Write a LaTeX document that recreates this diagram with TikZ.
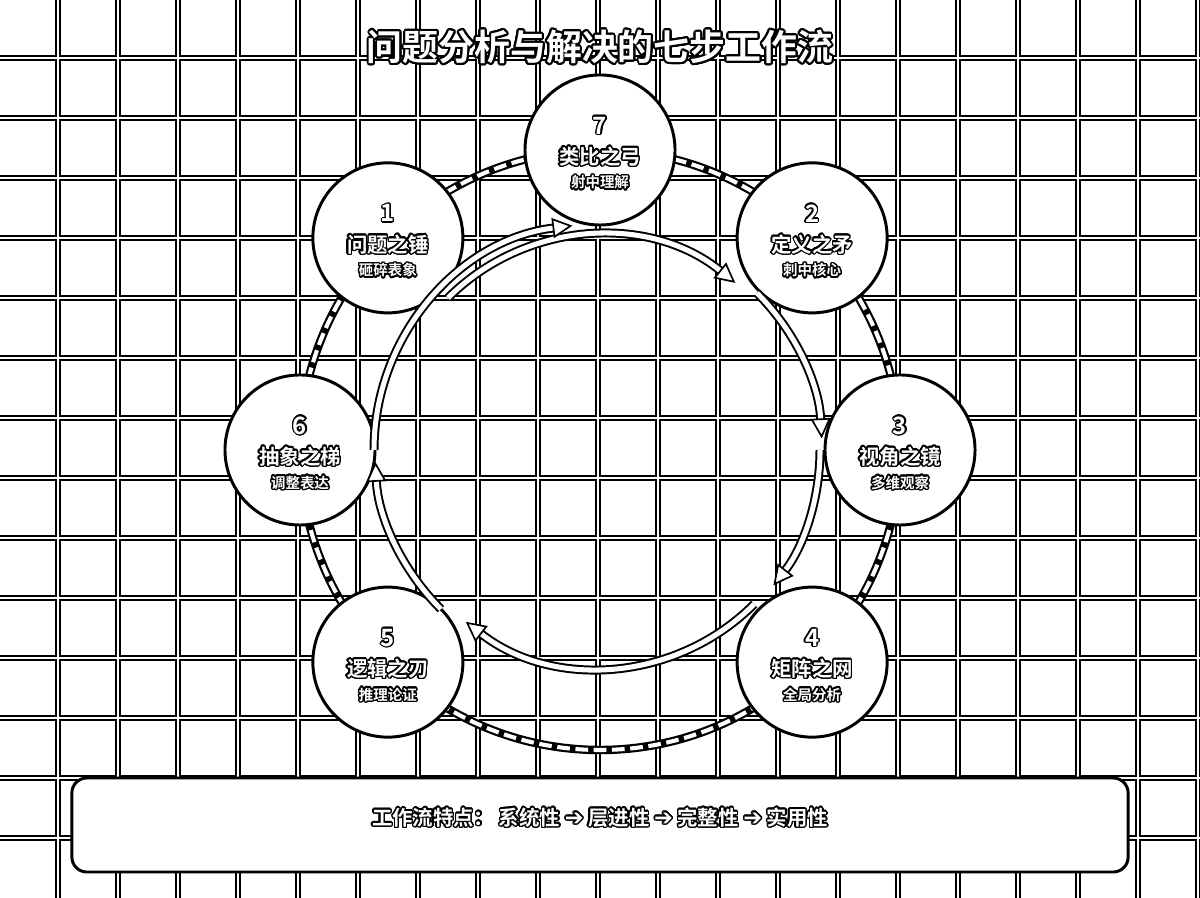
\documentclass[tikz,border=0pt]{standalone}
\usepackage{fontspec}
\usepackage{contour}
\usetikzlibrary{arrows.meta}
\setmainfont{Noto Sans CJK SC}
\newfontfamily\cjkfont{Noto Sans CJK SC}[BoldFont={Noto Sans CJK SC Bold}]
\newfontfamily\arrowfont{DejaVu Sans}
\contournumber{24}

\begin{document}
\begin{tikzpicture}[x=0.025cm,y=0.025cm,
        gridline/.style={line width=1.8pt, double=white, double distance=1.3pt},
        chainback/.style={line width=6pt, draw=black},
        chainfront/.style={line width=2.9pt, draw=white, dash pattern=on 9pt off 4pt},
        stage/.style={circle, draw=black, fill=white, line width=2.1pt, minimum size=3.75cm, inner sep=0pt},
        flow/.style={line width=1.4pt, double=white, double distance=3.6pt,
            -{Triangle[fill=white, length=0.5cm, width=0.5cm, line width=1.2pt]}},
        stagenum/.style={text=white, inner sep=0pt, font=\cjkfont\bfseries\fontsize{17}{20}\selectfont\contourlength{0.8pt}},
        stagetitle/.style={text=white, inner sep=0pt, font=\cjkfont\bfseries\fontsize{14.5}{17}\selectfont\contourlength{1pt}},
        stagesub/.style={text=white, inner sep=0pt, font=\cjkfont\bfseries\fontsize{10.3}{12}\selectfont\contourlength{1pt}},
        headline/.style={text=white, inner sep=0pt, font=\cjkfont\bfseries\fontsize{25.5}{30}\selectfont\contourlength{1.4pt}},
        notebox/.style={draw=black, fill=white, line width=2.1pt, rounded corners=0.375cm, minimum width=26.4cm, minimum height=2.35cm},
        notetext/.style={text=white, inner sep=0pt, font=\cjkfont\bfseries\fontsize{14.5}{17}\selectfont\contourlength{1pt}}
    ]
    \useasboundingbox (0,0) rectangle (1200,898);
    % Background grid
        \draw[gridline] \foreach \gx in {58,118,...,1198} {(\gx,0) -- (\gx,898)}
            \foreach \gy in {60,120,...,840} {(0,\gy) -- (1200,\gy)};
    % Title
        \node[headline] (title) at (600,850) {\contour{black}{问题分析与解决的七步工作流}};
    \begin{scope}[shift={(600,448)}]
        % Outer chain ring
            \draw[chainback] (0,0) circle (300);
            \draw[chainfront] (0,0) circle (300);
        % Stages
            \foreach \ang/\num/\ttl/\sub in {135/1/问题之锤/砸碎表象, 45/2/定义之矛/刺中核心,
                0/3/视角之镜/多维观察, -45/4/矩阵之网/全局分析, -135/5/逻辑之刃/推理论证,
                180/6/抽象之梯/调整表达, 90/7/类比之弓/射中理解} {
                \node[stage] (s\num) at (\ang:300) {};
                \node[stagenum] (s\num-num) at ([yshift=0.6cm]s\num.center) {\contour{black}{\num}};
                \node[stagetitle] (s\num-ttl) at ([yshift=-0.175cm]s\num.center) {\contour{black}{\ttl}};
                \node[stagesub] (s\num-sub) at ([yshift=-0.83cm]s\num.center) {\contour{black}{\sub}};
            }
        % Inner flow ring
            \draw[flow] (135:215) arc[start angle=135, end angle=51, radius=215];
            \draw[flow] (45:222) arc[start angle=45, end angle=3, radius=222];
            \draw[flow] (0:220) arc[start angle=0, end angle=-38, radius=220];
            \draw[flow] (-45:218) arc[start angle=-45, end angle=-128, radius=218];
            \draw[flow] (-135:225) arc[start angle=-135, end angle=-177, radius=225];
            \draw[flow] (180:226) arc[start angle=180, end angle=97, radius=226];
    \end{scope}
    % Summary box
        \node[notebox] (note) at (600,73) {};
        \node[notetext] (note-text) at ([yshift=0.17cm]note.center) {\contour{black}{工作流特点：~系统性 {\arrowfont\fontsize{16}{17}\selectfont ➔} 层进性 {\arrowfont\fontsize{16}{17}\selectfont ➔} 完整性 {\arrowfont\fontsize{16}{17}\selectfont ➔} 实用性}};
\end{tikzpicture}
\end{document}
